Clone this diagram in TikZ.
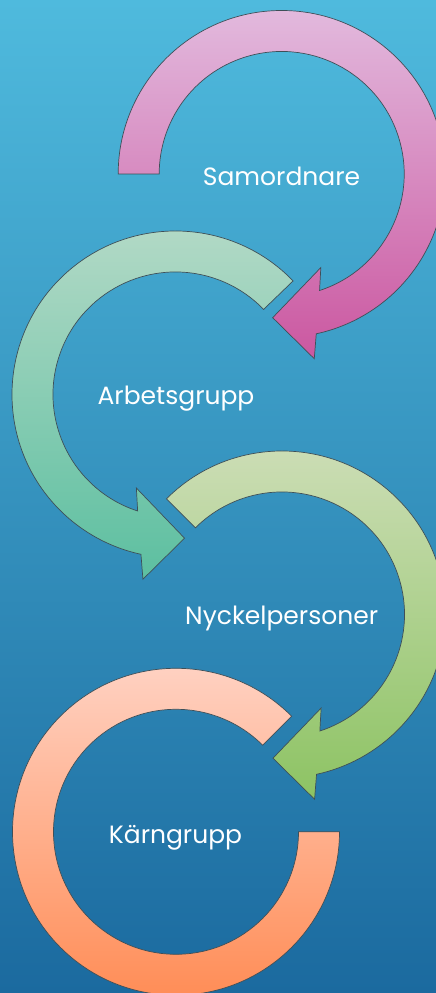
\documentclass[tikz,border=0pt]{standalone}
\usepackage{fontspec}
\setmainfont{Poppins}
\usetikzlibrary{calc}
\definecolor{bgtop}{HTML}{4FBADD}
\definecolor{bgbottom}{HTML}{1B6A9F}
\definecolor{ringedge}{HTML}{3E4F58}
\definecolor{pinktop}{HTML}{E2B9DD}
\definecolor{pinkbottom}{HTML}{CB57A0}
\definecolor{minttop}{HTML}{B5DAC7}
\definecolor{mintbottom}{HTML}{5CBFA0}
\definecolor{sagetop}{HTML}{CEDEB8}
\definecolor{sagebottom}{HTML}{8DC363}
\definecolor{peachtop}{HTML}{FFD4C6}
\definecolor{peachbottom}{HTML}{FF8A52}

\begin{document}
\begin{tikzpicture}[
    x=1pt, y=1pt,
    ring/.style 2 args={draw=ringedge, line width=0.7pt, top color=#1, bottom color=#2},
    circtext/.style={font=\fontsize{25}{30}\selectfont, text=white, anchor=base, inner sep=0pt},
]

% Background
\useasboundingbox (0,0) rectangle (436,993);
\shade[top color=bgtop, bottom color=bgbottom] (0,0) rectangle (436,993);
\clip (0,0) rectangle (436,993);

% Centers
\coordinate (c1) at (281.7,819);
\coordinate (c2) at (175.5,598.5);
\coordinate (c3) at (282,378.5);
\coordinate (c4) at (176,161.2);

% Samordnare - clockwise arrow
\path[ring={pinktop}{pinkbottom}] ($(c1)+(180:163.5pt)$)
    arc[start angle=180, end angle=-77.8, radius=163.5pt]
    -- ($(c1)+(-80:187.6pt)$) -- ($(c1)+(-93.6:144pt)$)
    -- ($(c1)+(-67.3:101.4pt)$) -- ($(c1)+(-72:122.5pt)$)
    arc[start angle=-72, end angle=180, radius=122.5pt] -- cycle;

% Arbetsgrupp - counterclockwise arrow
\path[ring={minttop}{mintbottom}] ($(c2)+(44:163.5pt)$)
    arc[start angle=44, end angle=257.8, radius=163.5pt]
    -- ($(c2)+(260:187.6pt)$) -- ($(c2)+(273.6:144pt)$)
    -- ($(c2)+(247.3:101.4pt)$) -- ($(c2)+(252:122.5pt)$)
    arc[start angle=252, end angle=44, radius=122.5pt] -- cycle;

% Nyckelpersoner - clockwise arrow
\path[ring={sagetop}{sagebottom}] ($(c3)+(135:163.5pt)$)
    arc[start angle=135, end angle=-77.8, radius=163.5pt]
    -- ($(c3)+(-80:187.6pt)$) -- ($(c3)+(-93.6:144pt)$)
    -- ($(c3)+(-67.3:101.4pt)$) -- ($(c3)+(-72:122.5pt)$)
    arc[start angle=-72, end angle=135, radius=122.5pt] -- cycle;

% Kaerngrupp - open ring, no head
\path[ring={peachtop}{peachbottom}] ($(c4)+(45:163.5pt)$)
    arc[start angle=45, end angle=360, radius=163.5pt]
    -- ($(c4)+(0:122.5pt)$)
    arc[start angle=360, end angle=45, radius=122.5pt] -- cycle;

% Labels
\node[circtext] (samordnare) at (281.5,807) {Samordnare};
\node[circtext] (arbetsgrupp) at (176,588.7) {Arbetsgrupp};
\node[circtext] (nyckel) at (281.7,368) {Nyckelpersoner};
\node[circtext] (karngrupp) at (175.5,149) {Kärngrupp};

\end{tikzpicture}
\end{document}
